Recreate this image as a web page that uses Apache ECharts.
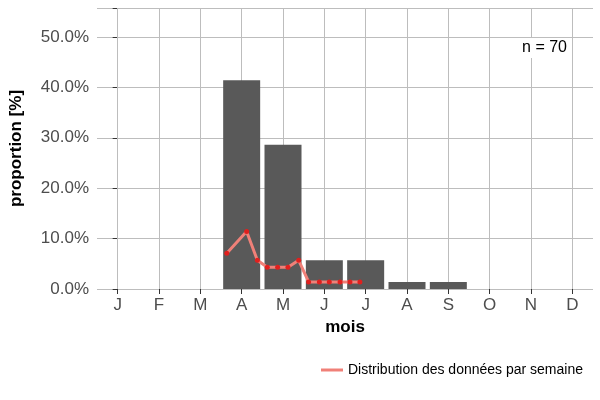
<!DOCTYPE html><html><head><meta charset="utf-8"><script src="https://cdn.jsdelivr.net/npm/echarts@6/dist/echarts.min.js"></script></head><body style="margin:0"><div id="c" style="width:600px;height:400px"></div><script>
const months=['J','F','M','A','M','J','J','A','S','O','N','D'];
const barVals=[0,0,0,0.414,0.286,0.057,0.057,0.014,0.014,0,0,0];
const weekX=[2.64,3.12,3.38,3.62,3.87,4.12,4.38,4.62,4.88,5.12,5.38,5.62,5.86];
const weekY=[0.071,0.114,0.057,0.043,0.043,0.043,0.057,0.014,0.014,0.014,0.014,0.014,0.014];
const yTicks=[0,0.1,0.2,0.3,0.4,0.5];
const c=echarts.init(document.getElementById('c'));
const grey='#bdbdbd';
c.setOption({animation:false,
grid:{left:90,right:7,top:8,bottom:111},
xAxis:[{type:'category',data:months,name:'mois',nameLocation:'middle',nameGap:28,nameTextStyle:{fontSize:17,fontWeight:'bold',color:'#000'},
axisLine:{show:false},axisTick:{show:true,alignWithLabel:true,length:5,lineStyle:{color:'#333'}},axisLabel:{fontSize:17,color:'#4d4d4d',margin:8},
splitLine:{show:false}},
{type:'value',min:-0.5,max:11.5,show:false}],
yAxis:{type:'value',min:0,max:0.5575,interval:0.1,name:'proportion [%]',nameLocation:'middle',nameGap:72,nameTextStyle:{fontSize:17,fontWeight:'bold',color:'#000'},
axisLabel:{fontSize:17,color:'#4d4d4d',formatter:v=>yTicks.some(t=>Math.abs(t-v)<1e-6)?(v*100).toFixed(1)+'%':''},
axisTick:{show:true,length:5,lineStyle:{color:'#333'}},axisLine:{show:false},splitLine:{lineStyle:{color:grey}}},
legend:{bottom:18,right:12,itemWidth:22,itemHeight:3,icon:'rect',itemStyle:{color:'#f08078'},textStyle:{fontSize:14,color:'#000'},data:['Distribution des données par semaine']},
textStyle:{fontFamily:'Liberation Sans'},
series:[{type:'bar',data:barVals,barWidth:37,itemStyle:{color:'#595959'},z:3,
markLine:{silent:true,symbol:'none',label:{show:false},lineStyle:{color:grey,type:'solid',width:1},z:1,data:months.map((m,i)=>({xAxis:i}))}},
{name:'Distribution des données par semaine',type:'line',xAxisIndex:1,data:weekX.map((x,i)=>[x,weekY[i]]),z:4,
symbol:'circle',symbolSize:5,lineStyle:{color:'#f08078',width:3},itemStyle:{color:'#e0201e'}}]
});
c.setOption({graphic:[{type:'text',right:30,top:38,z:100,style:{text:'n = 70',fontSize:16,fill:'#000',fontFamily:'Liberation Sans',backgroundColor:'#fff',padding:[2,3]}}]});
</script></body></html>
